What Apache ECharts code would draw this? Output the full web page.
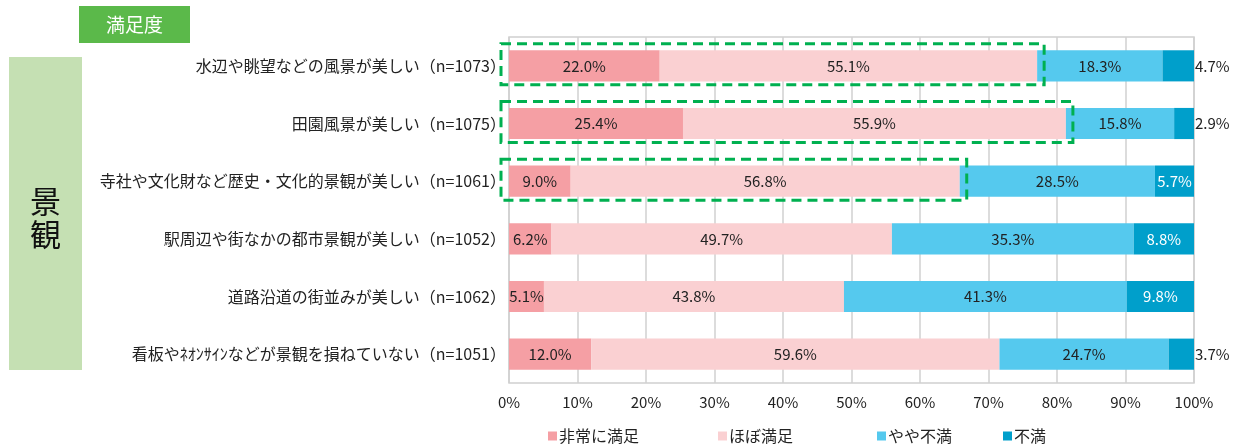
<!DOCTYPE html>
<html>
<head>
<meta charset="utf-8">
<script src="https://cdn.jsdelivr.net/npm/echarts@6/dist/echarts.min.js"></script>
<style>
  html, body { margin: 0; padding: 0; background: #fff; }
  #chart { width: 1239px; height: 448px; }
</style>
</head>
<body>
<div id="chart"></div>
<script>
// Survey items (landscape satisfaction), top to bottom
const categories = [
  '水辺や眺望などの風景が美しい（n=1073）',
  '田園風景が美しい（n=1075）',
  '寺社や文化財など歴史・文化的景観が美しい（n=1061）',
  '駅周辺や街なかの都市景観が美しい（n=1052）',
  '道路沿道の街並みが美しい（n=1062）',
  '看板やﾈｵﾝｻｲﾝなどが景観を損ねていない（n=1051）'
];
const seriesNames = ['非常に満足', 'ほぼ満足', 'やや不満', '不満'];
const verySatisfied = [22.0, 25.4, 9.0, 6.2, 5.1, 12.0];
const mostlySatisfied = [55.1, 55.9, 56.8, 49.7, 43.8, 59.6];
const somewhatDissatisfied = [18.3, 15.8, 28.5, 35.3, 41.3, 24.7];
const dissatisfied = [4.7, 2.9, 5.7, 8.8, 9.8, 3.7];
const xTicks = [0, 10, 20, 30, 40, 50, 60, 70, 80, 90, 100];
// Items whose satisfied share is outlined
const highlighted = [0, 1, 2];

const colors = ['#F59FA4', '#FAD0D2', '#55C9EE', '#009FCB'];
const jpFont = "'Noto Sans CJK JP', sans-serif";

const chart = echarts.init(document.getElementById('chart'));

function fmt(p) { return p.value.toFixed(1) + '%'; }

const baseLabel = {
  show: true,
  position: 'inside',
  formatter: fmt,
  fontFamily: jpFont,
  fontSize: 15,
  color: '#222'
};

function barSeries(name, values, idx) {
  return {
    name: name,
    type: 'bar',
    stack: 'total',
    barWidth: '54%',
    itemStyle: { color: colors[idx] },
    label: baseLabel,
    data: values.map(v => {
      if (idx === 3) {
        return v < 5
          ? { value: v, label: { position: 'right', distance: 1, color: '#222' } }
          : { value: v, label: { color: '#fff' } };
      }
      return v;
    })
  };
}

const boxData = highlighted.map(i => [verySatisfied[i] + mostlySatisfied[i], i]);

const option = {
  animation: false,
  grid: { left: 509, width: 685, top: 37, height: 346, show: true, borderColor: '#D0D0D0', borderWidth: 1.5 },
  xAxis: {
    type: 'value',
    min: 0, max: 100, interval: 10,
    axisLine: { show: false },
    axisTick: { show: false },
    splitLine: { lineStyle: { color: '#D0D0D0', width: 1.5 } },
    axisLabel: {
      margin: 12,
      fontFamily: jpFont, fontSize: 15, color: '#222',
      formatter: v => xTicks.includes(v) ? v + '%' : ''
    }
  },
  yAxis: {
    type: 'category',
    inverse: true,
    data: categories,
    axisLine: { show: false },
    axisTick: { show: false },
    axisLabel: { margin: 3, fontFamily: jpFont, fontSize: 16, color: '#222' }
  },
  legend: seriesNames.map((n, i) => ({
    data: [n],
    left: [543, 713, 872, 998][i],
    top: 423,
    icon: 'rect',
    itemWidth: 9, itemHeight: 9, itemGap: 4,
    textStyle: { fontFamily: jpFont, fontSize: 16, color: '#222', padding: [0, 0, 0, -3] }
  })),
  graphic: [
    { type: 'rect', shape: { x: 79, y: 6, width: 111, height: 37 }, style: { fill: '#5BB94A' } },
    { type: 'text', x: 134.5, y: 24.5, style: { text: '満足度', fill: '#fff', font: "19px 'Noto Sans CJK JP'", align: 'center', verticalAlign: 'middle' } },
    { type: 'rect', shape: { x: 9, y: 57, width: 73, height: 313 }, style: { fill: '#C5E0B3' } },
    { type: 'text', x: 45.5, y: 218, style: { text: '景\n観', fill: '#111', font: "31px 'Noto Sans CJK JP'", lineHeight: 33, align: 'center', verticalAlign: 'middle' } }
  ],
  series: [
    barSeries(seriesNames[0], verySatisfied, 0),
    barSeries(seriesNames[1], mostlySatisfied, 1),
    barSeries(seriesNames[2], somewhatDissatisfied, 2),
    barSeries(seriesNames[3], dissatisfied, 3),
    {
      type: 'custom',
      z: 10,
      silent: true,
      clip: false,
      encode: { x: 0, y: 1 },
      data: boxData,
      renderItem: function (params, api) {
        const start = api.coord([0, api.value(1)]);
        const end = api.coord([api.value(0), api.value(1)]);
        return {
          type: 'rect',
          shape: { x: start[0] - 8, y: start[1] - 22, width: end[0] - start[0] + 15, height: 41 },
          style: { fill: 'none', stroke: '#00B050', lineWidth: 3, lineDash: [10, 6] }
        };
      }
    }
  ]
};

chart.setOption(option);
</script>
</body>
</html>
